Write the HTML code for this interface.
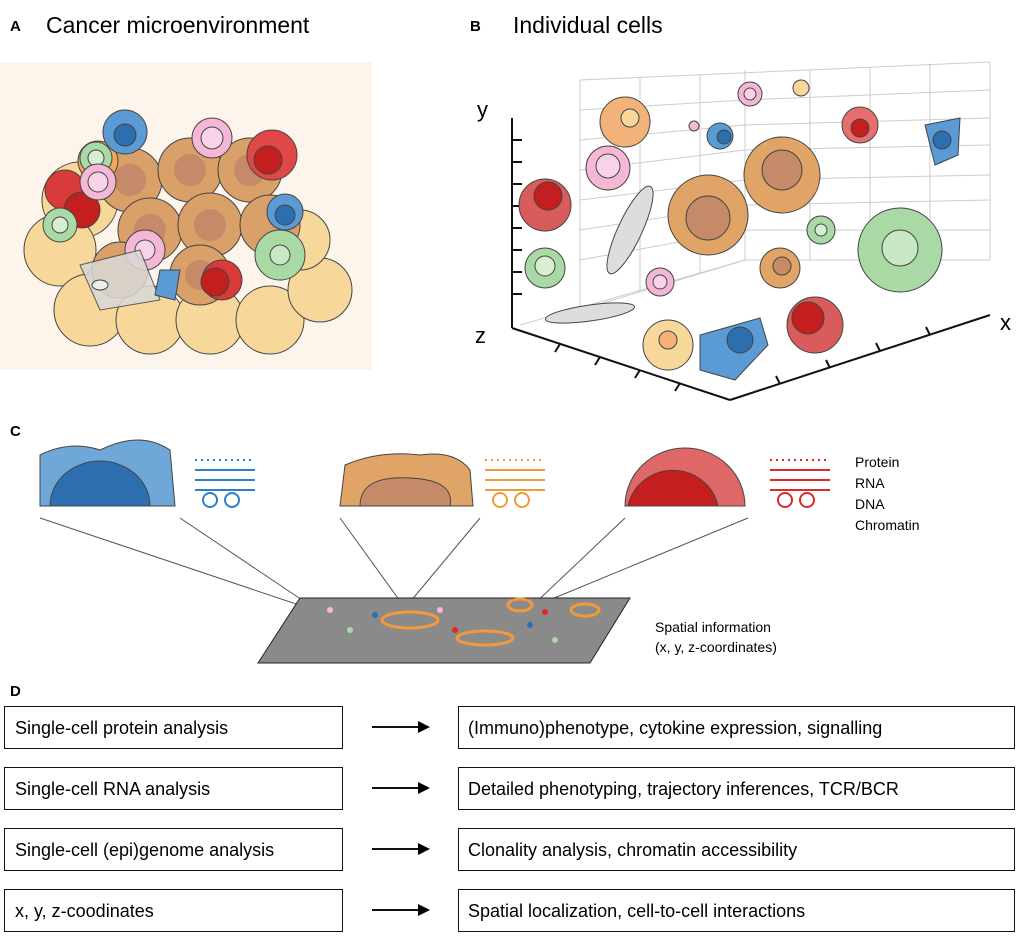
<!DOCTYPE html>
<html><head><meta charset="utf-8"><style>
body{margin:0;background:#fff;}
svg{display:block;font-family:"Liberation Sans",Arial,sans-serif;}
</style></head><body>
<svg width="1024" height="950" viewBox="0 0 1024 950">
<!-- Panel A -->
<text x="10" y="31" font-size="15" font-weight="bold">A</text>
<text x="46" y="33" font-size="23">Cancer microenvironment</text>
<rect x="0" y="62" width="372" height="308" fill="#fdf4ec"/>
<g stroke="#444" stroke-width="1">
  <g fill="#f8d89a">
    <circle cx="80" cy="200" r="38"/><circle cx="60" cy="250" r="36"/><circle cx="90" cy="310" r="36"/>
    <circle cx="150" cy="320" r="34"/><circle cx="210" cy="320" r="34"/><circle cx="270" cy="320" r="34"/>
    <circle cx="320" cy="290" r="32"/><circle cx="300" cy="240" r="30"/>
  </g>
  <g fill="#d9a06a">
    <circle cx="130" cy="180" r="32"/><circle cx="190" cy="170" r="32"/><circle cx="250" cy="170" r="32"/>
    <circle cx="150" cy="230" r="32"/><circle cx="210" cy="225" r="32"/><circle cx="270" cy="225" r="30"/>
    <circle cx="200" cy="275" r="30"/><circle cx="120" cy="270" r="28"/>
  </g>
  <g fill="#c58a68" stroke="none">
    <circle cx="130" cy="180" r="16"/><circle cx="190" cy="170" r="16"/><circle cx="250" cy="170" r="16"/>
    <circle cx="150" cy="230" r="16"/><circle cx="210" cy="225" r="16"/><circle cx="200" cy="275" r="15"/>
  </g>
  <circle cx="98" cy="161" r="20" fill="#f2a65a"/>
  <circle cx="125" cy="132" r="22" fill="#5b9bd5"/><circle cx="125" cy="135" r="11" fill="#2d6fae"/>
  <circle cx="65" cy="190" r="20" fill="#d93a3a"/><circle cx="82" cy="210" r="18" fill="#c41e1e"/>
  <circle cx="96" cy="158" r="16" fill="#a9d9a5"/><circle cx="96" cy="158" r="8" fill="#d6efd3"/>
  <circle cx="212" cy="138" r="20" fill="#f4b8d6"/><circle cx="212" cy="138" r="11" fill="#f8d2e6"/>
  <circle cx="98" cy="182" r="18" fill="#f4b8d6"/><circle cx="98" cy="182" r="10" fill="#f8d2e6"/>
  <circle cx="60" cy="225" r="17" fill="#a9d9a5"/><circle cx="60" cy="225" r="8" fill="#d6efd3"/>
  <circle cx="145" cy="250" r="20" fill="#f4b8d6"/><circle cx="145" cy="250" r="10" fill="#f8d2e6"/>
  <circle cx="222" cy="280" r="20" fill="#d93a3a"/><circle cx="215" cy="282" r="14" fill="#c41e1e"/>
  <circle cx="272" cy="155" r="25" fill="#e04848"/><circle cx="268" cy="160" r="14" fill="#c41e1e"/>
  <circle cx="285" cy="212" r="18" fill="#5b9bd5"/><circle cx="285" cy="215" r="10" fill="#2d6fae"/>
  <circle cx="280" cy="255" r="25" fill="#a9d9a5"/><circle cx="280" cy="255" r="10" fill="#c8e8c4"/>
  <path d="M80 265 L140 250 L160 300 L100 310 Z" fill="#d9d9d9" opacity="0.85"/>
  <ellipse cx="100" cy="285" rx="8" ry="5" fill="#eee"/>
  <path d="M160 270 L180 270 L175 300 L155 295 Z" fill="#5b9bd5"/>
</g>

<!-- Panel B -->
<text x="470" y="31" font-size="15" font-weight="bold">B</text>
<text x="513" y="33" font-size="23">Individual cells</text>
<g fill="none">
  <g stroke="#ccc" stroke-width="1">
    <line x1="580" y1="80" x2="990" y2="62"/><line x1="990" y1="62" x2="990" y2="260"/>
    <line x1="580" y1="80" x2="580" y2="310"/><line x1="990" y1="260" x2="745" y2="260"/>
    <line x1="580" y1="310" x2="745" y2="260"/><line x1="745" y1="260" x2="745" y2="70"/>
    <line x1="580" y1="110" x2="745" y2="100"/><line x1="580" y1="140" x2="745" y2="125"/>
    <line x1="580" y1="170" x2="745" y2="150"/><line x1="580" y1="200" x2="745" y2="180"/>
    <line x1="580" y1="230" x2="745" y2="205"/><line x1="580" y1="260" x2="745" y2="230"/>
    <line x1="745" y1="100" x2="990" y2="90"/><line x1="745" y1="125" x2="990" y2="118"/>
    <line x1="745" y1="150" x2="990" y2="145"/><line x1="745" y1="180" x2="990" y2="175"/>
    <line x1="745" y1="205" x2="990" y2="200"/><line x1="745" y1="230" x2="990" y2="230"/>
    <line x1="640" y1="78" x2="640" y2="292"/><line x1="700" y1="75" x2="700" y2="274"/>
    <line x1="810" y1="70" x2="810" y2="260"/><line x1="870" y1="67" x2="870" y2="260"/>
    <line x1="930" y1="64" x2="930" y2="260"/>
    <line x1="520" y1="325" x2="745" y2="260"/>
  </g>
  <g stroke="#111" stroke-width="2">
    <line x1="512" y1="118" x2="512" y2="328"/>
    <line x1="512" y1="328" x2="730" y2="400"/>
    <line x1="730" y1="400" x2="990" y2="315"/>
    <line x1="512" y1="140" x2="522" y2="140"/><line x1="512" y1="162" x2="522" y2="162"/>
    <line x1="512" y1="184" x2="522" y2="184"/><line x1="512" y1="206" x2="522" y2="206"/>
    <line x1="512" y1="228" x2="522" y2="228"/><line x1="512" y1="250" x2="522" y2="250"/>
    <line x1="512" y1="272" x2="522" y2="272"/><line x1="512" y1="294" x2="522" y2="294"/>
    <line x1="560" y1="344" x2="555" y2="352"/><line x1="600" y1="357" x2="595" y2="365"/>
    <line x1="640" y1="370" x2="635" y2="378"/><line x1="680" y1="383" x2="675" y2="391"/>
    <line x1="780" y1="384" x2="776" y2="376"/><line x1="830" y1="368" x2="826" y2="360"/>
    <line x1="880" y1="351" x2="876" y2="343"/><line x1="930" y1="335" x2="926" y2="327"/>
  </g>
</g>
<text x="477" y="117" font-size="22">y</text>
<text x="475" y="343" font-size="22">z</text>
<text x="1000" y="330" font-size="22">x</text>
<g stroke="#444" stroke-width="1">
  <circle cx="625" cy="122" r="25" fill="#f2b27a"/><circle cx="630" cy="118" r="9" fill="#f8d89a"/>
  <circle cx="694" cy="126" r="5" fill="#f4b8d6"/>
  <circle cx="750" cy="94" r="12" fill="#f4b8d6"/><circle cx="750" cy="94" r="6" fill="#f8d2e6"/>
  <circle cx="801" cy="88" r="8" fill="#f8d89a"/>
  <circle cx="720" cy="136" r="13" fill="#5b9bd5"/><circle cx="724" cy="137" r="7" fill="#2d6fae"/>
  <circle cx="608" cy="168" r="22" fill="#f4b8d6"/><circle cx="608" cy="166" r="12" fill="#f8d2e6"/>
  <circle cx="545" cy="205" r="26" fill="#d95c5c"/><circle cx="548" cy="196" r="14" fill="#c41e1e"/>
  <ellipse cx="630" cy="230" rx="12" ry="48" transform="rotate(25 630 230)" fill="#ddd"/>
  <circle cx="708" cy="215" r="40" fill="#e0a466"/><circle cx="708" cy="218" r="22" fill="#c58a68"/>
  <circle cx="782" cy="175" r="38" fill="#e0a466"/><circle cx="782" cy="170" r="20" fill="#c58a68"/>
  <circle cx="860" cy="125" r="18" fill="#e86e6e"/><circle cx="860" cy="128" r="9" fill="#c41e1e"/>
  <path d="M925 125 L960 118 L958 155 L935 165 Z" fill="#5b9bd5"/><circle cx="942" cy="140" r="9" fill="#2d6fae"/>
  <circle cx="821" cy="230" r="14" fill="#a9d9a5"/><circle cx="821" cy="230" r="6" fill="#d6efd3"/>
  <circle cx="900" cy="250" r="42" fill="#a9d9a5"/><circle cx="900" cy="248" r="18" fill="#c8e8c4"/>
  <circle cx="545" cy="268" r="20" fill="#a9d9a5"/><circle cx="545" cy="266" r="10" fill="#d6efd3"/>
  <circle cx="780" cy="268" r="20" fill="#e0a466"/><circle cx="782" cy="266" r="9" fill="#c58a68"/>
  <circle cx="660" cy="282" r="14" fill="#f4b8d6"/><circle cx="660" cy="282" r="7" fill="#f8d2e6"/>
  <ellipse cx="590" cy="313" rx="45" ry="8" transform="rotate(-8 590 313)" fill="#ddd"/>
  <circle cx="668" cy="345" r="25" fill="#f8d89a"/><circle cx="668" cy="340" r="9" fill="#f2b27a"/>
  <path d="M700 335 L760 318 L768 345 L735 380 L700 370 Z" fill="#5b9bd5"/><circle cx="740" cy="340" r="13" fill="#2d6fae"/>
  <circle cx="815" cy="325" r="28" fill="#d95c5c"/><circle cx="808" cy="318" r="16" fill="#c41e1e"/>
</g>

<!-- Panel C -->
<text x="10" y="436" font-size="15" font-weight="bold">C</text>
<g stroke="#444" stroke-width="1">
  <path d="M40 506 L40 455 Q70 440 100 450 Q140 430 170 450 L175 506 Z" fill="#6fa7d8"/>
  <path d="M50 506 A50 45 0 0 1 150 506 Z" fill="#2d6fae"/>
  <path d="M340 506 L345 465 Q380 450 420 455 Q455 450 470 470 L473 506 Z" fill="#e0a466"/>
  <path d="M360 506 Q360 475 410 478 Q455 480 450 506 Z" fill="#c58a68"/>
  <path d="M625 506 A60 58 0 0 1 745 506 Z" fill="#e06767"/>
  <path d="M628 506 A46 45 0 0 1 718 506 Z" fill="#c41e1e"/>
</g>
<g fill="none" stroke-width="2">
  <g stroke="#2d7fce"><path d="M195 470 H255 M195 480 H255 M195 490 H255"/><circle cx="210" cy="500" r="7"/><circle cx="232" cy="500" r="7"/><path d="M195 460 H255" stroke-dasharray="2 4"/></g>
  <g stroke="#f29a3a"><path d="M485 470 H545 M485 480 H545 M485 490 H545"/><circle cx="500" cy="500" r="7"/><circle cx="522" cy="500" r="7"/><path d="M485 460 H545" stroke-dasharray="2 4"/></g>
  <g stroke="#e02828"><path d="M770 470 H830 M770 480 H830 M770 490 H830"/><circle cx="785" cy="500" r="7"/><circle cx="807" cy="500" r="7"/><path d="M770 460 H830" stroke-dasharray="2 4"/></g>
</g>
<g font-size="14">
  <text x="855" y="467">Protein</text><text x="855" y="488">RNA</text>
  <text x="855" y="509">DNA</text><text x="855" y="530">Chromatin</text>
</g>
<g stroke="#555" stroke-width="1">
  <line x1="40" y1="518" x2="320" y2="612"/><line x1="180" y1="518" x2="320" y2="612"/>
  <line x1="340" y1="518" x2="405" y2="608"/><line x1="480" y1="518" x2="405" y2="608"/>
  <line x1="625" y1="518" x2="530" y2="608"/><line x1="748" y1="518" x2="530" y2="608"/>
</g>
<path d="M300 598 L630 598 L590 663 L258 663 Z" fill="#8a8a8a" stroke="#222"/>
<g>
  <ellipse cx="410" cy="620" rx="28" ry="8" fill="none" stroke="#f29a3a" stroke-width="3"/>
  <ellipse cx="485" cy="638" rx="28" ry="7" fill="none" stroke="#f29a3a" stroke-width="3"/>
  <ellipse cx="520" cy="605" rx="12" ry="6" fill="none" stroke="#f29a3a" stroke-width="3"/>
  <ellipse cx="585" cy="610" rx="14" ry="6" fill="none" stroke="#f29a3a" stroke-width="3"/>
  <circle cx="330" cy="610" r="3" fill="#f4b8d6"/><circle cx="350" cy="630" r="3" fill="#a9d9a5"/>
  <circle cx="375" cy="615" r="3" fill="#2d6fae"/><circle cx="440" cy="610" r="3" fill="#f4b8d6"/>
  <circle cx="455" cy="630" r="3" fill="#e02828"/><circle cx="530" cy="625" r="3" fill="#2d6fae"/>
  <circle cx="545" cy="612" r="3" fill="#e02828"/><circle cx="555" cy="640" r="3" fill="#a9d9a5"/>
</g>
<text x="655" y="632" font-size="14">Spatial information</text>
<text x="655" y="652" font-size="14">(x, y, z-coordinates)</text>

<!-- Panel D -->
<text x="10" y="696" font-size="15" font-weight="bold">D</text>
<g font-size="18">
  <g>
    <rect x="4.5" y="706.5" width="338" height="42" fill="none" stroke="#111"/>
    <text x="15" y="734">Single-cell protein analysis</text>
    <line x1="372" y1="727" x2="426" y2="727" stroke="#111" stroke-width="2"/><path d="M430 727 L418 721 L418 733 Z"/>
    <rect x="458.5" y="706.5" width="556" height="42" fill="none" stroke="#111"/>
    <text x="468" y="734">(Immuno)phenotype, cytokine expression, signalling</text>
  </g>
  <g>
    <rect x="4.5" y="767.5" width="338" height="42" fill="none" stroke="#111"/>
    <text x="15" y="795">Single-cell RNA analysis</text>
    <line x1="372" y1="788" x2="426" y2="788" stroke="#111" stroke-width="2"/><path d="M430 788 L418 782 L418 794 Z"/>
    <rect x="458.5" y="767.5" width="556" height="42" fill="none" stroke="#111"/>
    <text x="468" y="795">Detailed phenotyping, trajectory inferences, TCR/BCR</text>
  </g>
  <g>
    <rect x="4.5" y="828.5" width="338" height="42" fill="none" stroke="#111"/>
    <text x="15" y="856">Single-cell (epi)genome analysis</text>
    <line x1="372" y1="849" x2="426" y2="849" stroke="#111" stroke-width="2"/><path d="M430 849 L418 843 L418 855 Z"/>
    <rect x="458.5" y="828.5" width="556" height="42" fill="none" stroke="#111"/>
    <text x="468" y="856">Clonality analysis, chromatin accessibility</text>
  </g>
  <g>
    <rect x="4.5" y="889.5" width="338" height="42" fill="none" stroke="#111"/>
    <text x="15" y="917">x, y, z-coodinates</text>
    <line x1="372" y1="910" x2="426" y2="910" stroke="#111" stroke-width="2"/><path d="M430 910 L418 904 L418 916 Z"/>
    <rect x="458.5" y="889.5" width="556" height="42" fill="none" stroke="#111"/>
    <text x="468" y="917">Spatial localization, cell-to-cell interactions</text>
  </g>
</g>
</svg>
</body></html>
